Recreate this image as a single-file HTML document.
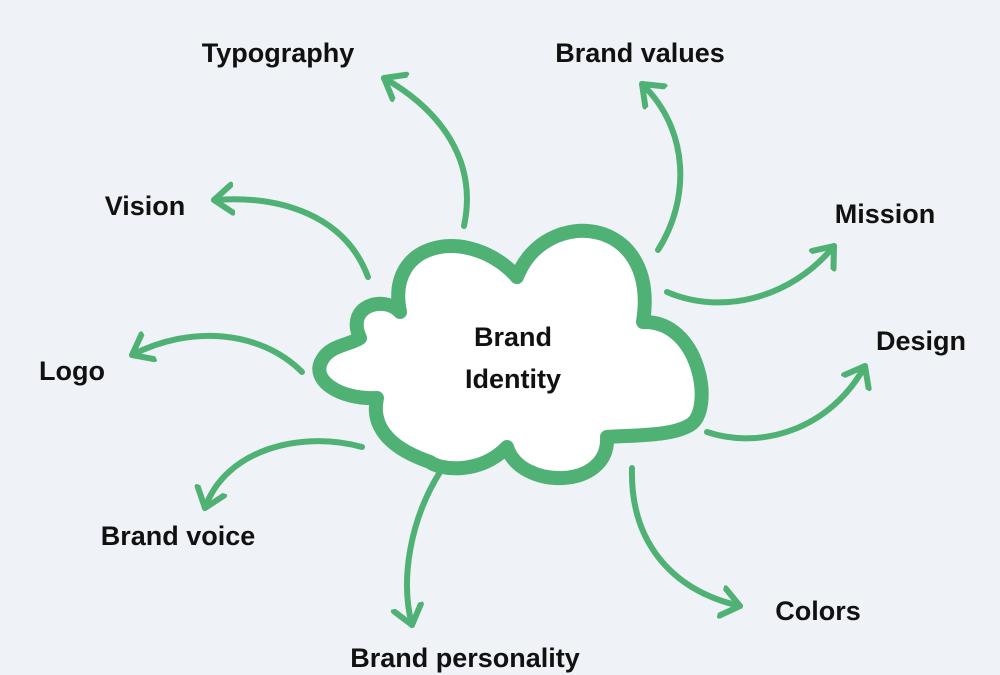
<!DOCTYPE html>
<html><head><meta charset="utf-8"><style>
html,body{margin:0;padding:0;background:#eff2f6;}
svg{display:block}
text{font-family:"Liberation Sans",sans-serif;font-weight:bold;font-size:27px;fill:#111;}
</style></head><body>
<svg width="1000" height="675" viewBox="0 0 1000 675" xmlns="http://www.w3.org/2000/svg">
<defs>
<marker id="h" markerUnits="userSpaceOnUse" markerWidth="40" markerHeight="40" refX="20" refY="20" orient="auto">
<path d="M2,6 L20,20 L2,34" fill="none" stroke="#4fb274" stroke-width="6" stroke-linecap="round" stroke-linejoin="round"/>
</marker>
</defs>
<rect width="1000" height="675" fill="#eff2f6"/>
<g fill="none" stroke="#4fb274" stroke-width="6" stroke-linecap="round" marker-end="url(#h)">
<path d="M464,226 C478,160 440,110 384,78"/>
<path d="M658,250 C690,200 690,130 642,84"/>
<path d="M368,277 C345,215 280,195 214,200"/>
<path d="M667,292 C720,315 790,300 834,246"/>
<path d="M302,372 C260,330 190,325 132,355"/>
<path d="M707,432 C760,450 830,430 865,366"/>
<path d="M362,447 C300,430 225,450 205,508"/>
<path d="M440,472 C410,520 400,580 412,625"/>
<path d="M632,468 C630,540 670,590 740,606"/>
</g>
<path d="M400,312 C385,240 470,225 517,277 C545,205 660,215 643,322 C700,320 715,410 690,425 C670,437 630,435 607,437 C610,490 520,490 507,447 C480,475 440,470 430,462 C395,450 370,430 377,398 C340,400 310,380 322,360 C330,345 350,345 360,338 C345,305 385,295 400,312 Z" fill="#fff" stroke="#4fb274" stroke-width="14" stroke-linejoin="round"/>
<text x="513" y="346" text-anchor="middle">Brand</text>
<text x="513" y="388" text-anchor="middle">Identity</text>
<text x="278" y="62" text-anchor="middle">Typography</text>
<text x="640" y="62" text-anchor="middle">Brand values</text>
<text x="145" y="215" text-anchor="middle">Vision</text>
<text x="885" y="223" text-anchor="middle">Mission</text>
<text x="72" y="380" text-anchor="middle">Logo</text>
<text x="921" y="350" text-anchor="middle">Design</text>
<text x="178" y="545" text-anchor="middle">Brand voice</text>
<text x="465" y="667" text-anchor="middle">Brand personality</text>
<text x="818" y="620" text-anchor="middle">Colors</text>
</svg>
</body></html>
